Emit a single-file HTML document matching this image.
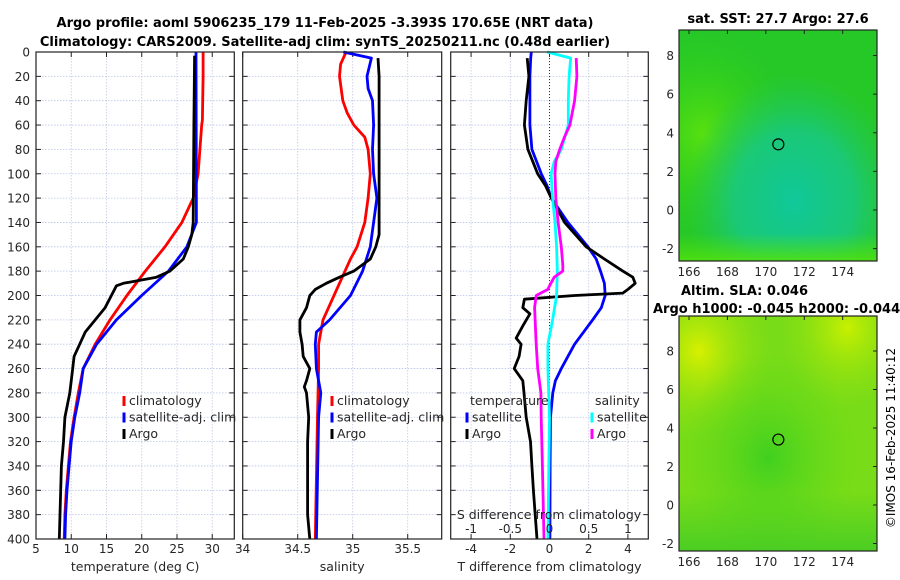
<!DOCTYPE html>
<html><head><meta charset="utf-8"><style>
body{margin:0;background:#fff;}
svg{display:block;font-family:"DejaVu Sans","Liberation Sans",sans-serif;}
</style></head><body>
<svg id="fig" width="900" height="580" viewBox="0 0 900 580" xmlns="http://www.w3.org/2000/svg">
<defs>
<radialGradient id="g1a" cx="0.12" cy="0.45" r="0.45"><stop offset="0" stop-color="#58e010"/><stop offset="1" stop-color="#30d018" stop-opacity="0"/></radialGradient>
<radialGradient id="g1b" cx="0.58" cy="0.74" r="0.55"><stop offset="0" stop-color="#10c89a"/><stop offset="0.55" stop-color="#18c884" stop-opacity="0.85"/><stop offset="1" stop-color="#20c860" stop-opacity="0"/></radialGradient>
<linearGradient id="g1c" x1="0" y1="0" x2="0" y2="1"><stop offset="0.88" stop-color="#50e010" stop-opacity="0"/><stop offset="1" stop-color="#50e010" stop-opacity="0.9"/></linearGradient>
<radialGradient id="g2a" cx="0.1" cy="0.15" r="0.38"><stop offset="0" stop-color="#d8f000"/><stop offset="1" stop-color="#90e010" stop-opacity="0"/></radialGradient>
<radialGradient id="g2b" cx="0.85" cy="0.05" r="0.35"><stop offset="0" stop-color="#c8f000"/><stop offset="1" stop-color="#90e010" stop-opacity="0"/></radialGradient>
<radialGradient id="g2c" cx="0.45" cy="0.6" r="0.45"><stop offset="0" stop-color="#40d020"/><stop offset="1" stop-color="#60d818" stop-opacity="0"/></radialGradient>
<linearGradient id="g2d" x1="0" y1="0" x2="0" y2="1"><stop offset="0.75" stop-color="#38c828" stop-opacity="0"/><stop offset="1" stop-color="#38c828" stop-opacity="0.7"/></linearGradient>
</defs>
<g id="titles">
<text x="325" y="27" font-size="13" font-weight="bold" text-anchor="middle">Argo profile: aoml 5906235_179 11-Feb-2025 -3.393S 170.65E (NRT data)</text>
<text x="325" y="46" font-size="13" font-weight="bold" text-anchor="middle">Climatology: CARS2009. Satellite-adj clim: synTS_20250211.nc (0.48d earlier)</text>
<text x="778" y="23" font-size="13" font-weight="bold" text-anchor="middle">sat. SST: 27.7 Argo: 27.6</text>
<text x="681" y="295" font-size="13" font-weight="bold">Altim. SLA: 0.046</text>
<text x="653" y="313" font-size="13" font-weight="bold">Argo h1000: -0.045 h2000: -0.044</text>
<text transform="translate(895,438) rotate(-90)" font-size="12" text-anchor="middle">©IMOS 16-Feb-2025 11:40:12</text>
</g>
<g id="panels"></g>
<g id="maps"></g>
</svg>
<script>
// ---------- data ----------
const tClimDepth = [0,20,40,56,60,100,120,140,160,180,200,220,240,260,280,300,320,340,360,380,400];
const tClimVal   = [28.7,28.7,28.65,28.6,28.5,28.0,27.3,25.7,23.3,20.5,17.9,15.5,13.4,11.7,11.0,10.4,9.9,9.6,9.3,9.1,9.0];
const tSatDepth  = [0,140,160,180,200,220,240,260,280,300,320,340,360,380,400];
const tSatVal    = [27.7,27.75,26.4,23.8,20.0,16.4,13.6,11.7,11.2,10.5,10.0,9.7,9.4,9.2,9.1];
const tArgoDepth = [3,60,140,150,160,170,180,185,188,190,192,200,210,220,230,240,250,260,280,300,320,340,360,380,400];
const tArgoVal   = [27.5,27.4,27.3,27.1,26.6,25.9,24.0,22.1,19.3,17.4,16.4,15.7,14.8,13.4,12.0,11.2,10.4,10.2,9.8,9.1,8.9,8.6,8.5,8.4,8.3];

const sClimDepth = [0,10,20,40,50,60,70,80,100,120,140,160,170,180,200,220,240,260,300,400];
const sClimVal   = [34.94,34.89,34.88,34.91,34.95,35.01,35.11,35.14,35.16,35.14,35.11,35.04,34.98,34.93,34.83,34.73,34.69,34.69,34.68,34.66];
const sSatDepth  = [0,5,20,30,40,60,80,100,120,140,160,180,200,220,230,240,260,280,300,400];
const sSatVal    = [34.915,35.17,35.13,35.14,35.18,35.19,35.18,35.19,35.22,35.19,35.16,35.09,34.98,34.79,34.67,34.66,34.67,34.71,34.69,34.67];
const sArgoDepth = [5,20,60,100,150,160,170,180,185,190,195,200,210,220,230,240,250,260,270,275,280,300,320,340,360,380,400];
const sArgoVal   = [35.23,35.24,35.24,35.24,35.24,35.21,35.16,35.01,34.88,34.76,34.66,34.61,34.58,34.52,34.52,34.54,34.55,34.61,34.58,34.56,34.58,34.60,34.59,34.59,34.59,34.59,34.61];

const dtSatDepth = [0,5,20,40,60,80,100,110,120,140,160,170,180,190,200,210,220,240,260,270,280,300,340,400];
const dtSatVal   = [-0.93,-0.96,-1.0,-1.0,-1.0,-0.9,-0.42,-0.12,0.09,0.94,1.96,2.38,2.6,2.8,2.84,2.64,2.2,1.28,0.6,0.3,0.17,0.05,0.03,0.02];
const dtArgoDepth = [5,20,40,60,80,100,110,120,140,160,170,180,185,190,195,198,200,203,210,215,225,235,240,250,260,270,280,300,320,340,360,380,400];
const dtArgoVal   = [-1.14,-1.05,-1.19,-1.28,-1.1,-0.6,-0.2,0.09,0.77,1.87,2.8,3.74,4.25,4.37,4.0,3.74,1.28,-1.28,-1.36,-1.0,-1.36,-1.7,-1.45,-1.55,-1.8,-1.36,-1.3,-1.19,-0.97,-0.9,-0.82,-0.73,-0.64];
const dsSatDepth = [0,5,20,40,60,80,90,100,120,140,160,180,200,220,240,260,280,300,400];
const dsSatVal   = [-0.03,0.27,0.25,0.24,0.24,0.15,0.06,0.02,0.04,0.07,0.09,0.1,0.09,0.04,-0.02,-0.02,-0.01,0.0,-0.02];
const dsArgoDepth = [5,20,40,60,70,80,90,100,120,140,160,175,180,185,192,195,200,210,240,260,280,300,340,400];
const dsArgoVal   = [0.34,0.35,0.32,0.26,0.19,0.13,0.08,0.07,0.08,0.11,0.15,0.17,0.17,0.06,0.0,-0.02,-0.17,-0.19,-0.17,-0.15,-0.11,-0.106,-0.09,-0.07];

const tTicks = [5,10,15,20,25,30];
const sTicks = [34,34.5,35,35.5];
const dtTicks = [-4,-2,0,2,4];
const dsTicks = [-1,-0.5,0,0.5,1];
const depthTicks = [0,20,40,60,80,100,120,140,160,180,200,220,240,260,280,300,320,340,360,380,400];

// ---------- helpers ----------
const NS = "http://www.w3.org/2000/svg";
function mk(tag, attrs, parent){const e=document.createElementNS(NS,tag);for(const k in attrs)e.setAttribute(k,attrs[k]);parent.appendChild(e);return e;}
const Y0=52, Y1=539;
const yScale = d => Y0 + d/400*(Y1-Y0);
function lin(d0,d1,r0,r1){return v=>r0+(v-d0)/(d1-d0)*(r1-r0);}
const panelsG = document.getElementById('panels');

function drawPanel(name, x0, x1, xs, ticks, labelText){
  const g = mk('g',{},panelsG);
  
  
  depthTicks.forEach(d=>{
    const l=mk('line',{x1:x0,x2:x1,y1:yScale(d),y2:yScale(d),stroke:'#b8c4e8','stroke-width':0.8,'stroke-dasharray':'1.5,1.5'},g);
    
    
  });
  ticks.forEach(t=>{
    const x=xs(t);
    const l=mk('line',{x1:x,x2:x,y1:Y0,y2:Y1,stroke:'#c8c8e4','stroke-width':0.8,'stroke-dasharray':'1.5,1.5'},g);
    
    
    const tl=mk('text',{x:x,y:553,'font-size':12,'text-anchor':'middle',fill:'#262626'},g);
    tl.textContent=String(t);
    
    
    mk('line',{x1:x,x2:x,y1:Y1,y2:Y1-5,stroke:'#222'},g);
    mk('line',{x1:x,x2:x,y1:Y0,y2:Y0+5,stroke:'#222'},g);
  });
  depthTicks.forEach(d=>{
    mk('line',{x1:x0,x2:x0+5,y1:yScale(d),y2:yScale(d),stroke:'#222'},g);
    mk('line',{x1:x1,x2:x1-5,y1:yScale(d),y2:yScale(d),stroke:'#222'},g);
  });
  const lab=mk('text',{x:(x0+x1)/2,y:571,'font-size':12.5,'text-anchor':'middle',fill:'#262626'},g);
  lab.textContent=labelText;
  
  
  return g;
}
function frame(g,x0,x1){
  const r=mk('rect',{x:x0,y:Y0,width:x1-x0,height:Y1-Y0,fill:'none',stroke:'#222','stroke-width':1.2},g);
  
  
}
function series(g,name,depths,vals,xs,color){
  const pts = depths.map((d,i)=>xs(vals[i]).toFixed(1)+','+yScale(d).toFixed(1)).join(' ');
  const p=mk('polyline',{points:pts,fill:'none',stroke:color,'stroke-width':2.8,'stroke-linejoin':'round'},g);
  
  
}
function legend(g,x,y,items){
  items.forEach((it,i)=>{
    mk('line',{x1:x,x2:x,y1:y+i*16.5-9,y2:y+i*16.5+1,stroke:it[1],'stroke-width':3},g);
    const t=mk('text',{x:x+5,y:y+i*16.5,'font-size':12.5,fill:'#262626'},g);
    t.textContent=it[0];
    
    
  });
}

depthTicks.forEach(d=>{
  const t=mk('text',{x:30,y:yScale(d)+4.5,'font-size':12,'text-anchor':'end',fill:'#262626'},panelsG);
  t.textContent=String(d);
  
  
});

const xT = lin(5,33.13,36,234.3);
const g1 = drawPanel('temperature-panel',36,234.3,xT,tTicks,'temperature (deg C)');
series(g1,'temp-climatology-line',tClimDepth,tClimVal,xT,'#ff0000');
series(g1,'temp-satellite-line',tSatDepth,tSatVal,xT,'#0000ff');
series(g1,'temp-argo-line',tArgoDepth,tArgoVal,xT,'#000000');
legend(g1,124,405,[['climatology','#ff0000'],['satellite-adj. clim','#0000ff'],['Argo','#000']]);
frame(g1,36,234.3);

const xS = lin(34,35.809,242.7,441.7);
const g2 = drawPanel('salinity-panel',242.7,441.7,xS,sTicks,'salinity');
series(g2,'sal-climatology-line',sClimDepth,sClimVal,xS,'#ff0000');
series(g2,'sal-satellite-line',sSatDepth,sSatVal,xS,'#0000ff');
series(g2,'sal-argo-line',sArgoDepth,sArgoVal,xS,'#000000');
legend(g2,332,405,[['climatology','#ff0000'],['satellite-adj. clim','#0000ff'],['Argo','#000']]);
frame(g2,242.7,441.7);

const xD = lin(-5.04,5.04,450.7,648.3);
const xDS = lin(-1.26,1.26,450.7,648.3);
const g3 = drawPanel('difference-panel',450.7,648.3,xD,dtTicks,'T difference from climatology');
mk('line',{x1:xD(0),x2:xD(0),y1:Y0,y2:Y1,stroke:'#333','stroke-width':1,'stroke-dasharray':'1,2'},g3);
series(g3,'dt-satellite-line',dtSatDepth,dtSatVal,xD,'#0000ff');
series(g3,'dt-argo-line',dtArgoDepth,dtArgoVal,xD,'#000000');
series(g3,'ds-satellite-line',dsSatDepth,dsSatVal,xDS,'#00ffff');
series(g3,'ds-argo-line',dsArgoDepth,dsArgoVal,xDS,'#ff00ff');
const st=mk('text',{x:549,y:519,'font-size':12.5,'text-anchor':'middle',fill:'#262626'},g3);
st.textContent='S difference from climatology';


dsTicks.forEach(v=>{
  const t=mk('text',{x:xDS(v),y:533,'font-size':12,'text-anchor':'middle',fill:'#262626'},g3);
  t.textContent=String(v);
  
  
});
const lt1=mk('text',{x:470,y:405,'font-size':12.5,fill:'#262626'},g3);lt1.textContent='temperature';


const lt2=mk('text',{x:595,y:405,'font-size':12.5,fill:'#262626'},g3);lt2.textContent='salinity';


legend(g3,467,421.5,[['satellite','#0000ff'],['Argo','#000']]);
legend(g3,592,421.5,[['satellite','#00ffff'],['Argo','#ff00ff']]);
frame(g3,450.7,648.3);

const lonTicks=[166,168,170,172,174];
const latTicks=[-2,0,2,4,6,8];
const argoLon=170.65, argoLat=3.4;
const mapsG=document.getElementById('maps');
function drawMap(name,x0,x1,y0,y1,latAt8,latAt0,fills,base){
  const g=mk('g',{},mapsG);
  
  
  const xl=lin(166,174,689,842.7);
  const yl=lin(0,8,latAt0,latAt8);
  mk('rect',{x:x0,y:y0,width:x1-x0,height:y1-y0,fill:base},g);
  fills.forEach(f=>mk('rect',{x:x0,y:y0,width:x1-x0,height:y1-y0,fill:f},g));
  const c=mk('circle',{cx:xl(argoLon),cy:yl(argoLat),r:5.5,fill:'none',stroke:'#000','stroke-width':1.2},g);
  
  
  mk('rect',{x:x0,y:y0,width:x1-x0,height:y1-y0,fill:'none',stroke:'#222','stroke-width':1.2},g);
  latTicks.forEach(v=>{
    const y=yl(v);
    mk('line',{x1:x1,x2:x1-4,y1:y,y2:y,stroke:'#222'},g);
    const t=mk('text',{x:x0-5,y:y+4.5,'font-size':12,'text-anchor':'end',fill:'#262626'},g);
    t.textContent=String(v);
    
    
  });
  lonTicks.forEach(v=>{
    const x=xl(v);
    mk('line',{x1:x,x2:x,y1:y0,y2:y0+4,stroke:'#222'},g);
    const t=mk('text',{x:x,y:y1+15,'font-size':12,'text-anchor':'middle',fill:'#262626'},g);
    t.textContent=String(v);
    
    
  });
}
drawMap('sst-map',679,877,30,261,55.5,210,['url(#g1a)','url(#g1b)','url(#g1c)'],'#26c828');
drawMap('sla-map',679,877,316,551,351,505,['url(#g2a)','url(#g2b)','url(#g2c)','url(#g2d)'],'#78dc18');
</script>
</body></html>
